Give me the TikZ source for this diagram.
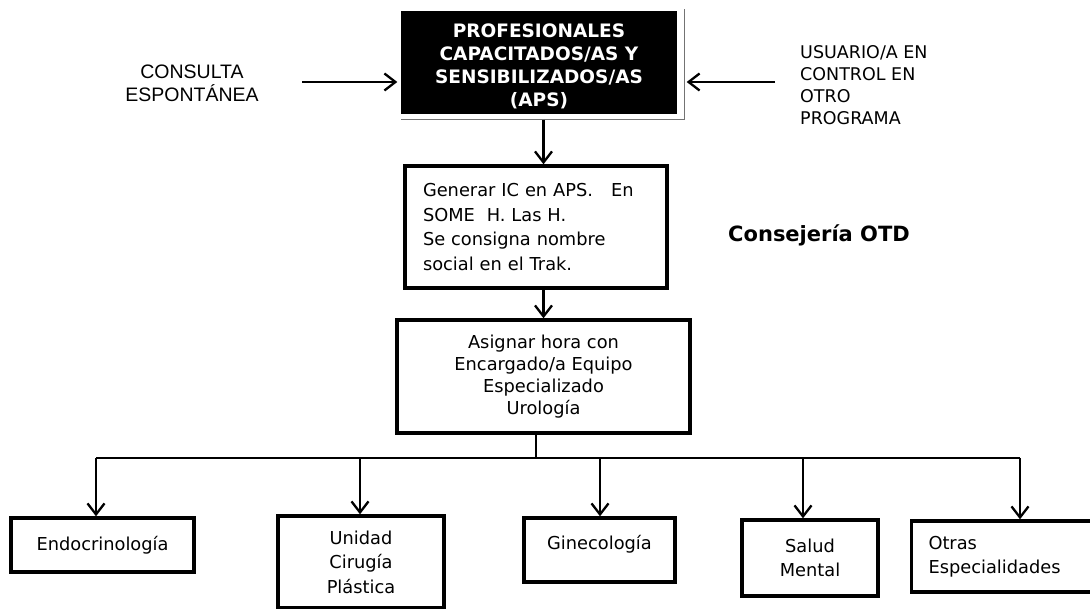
\documentclass[tikz,border=0pt]{standalone}
\usepackage{fontspec}
\setmainfont{DejaVu Sans}
\newfontfamily\arialfont{Liberation Sans}
\usetikzlibrary{arrows.meta,positioning}

\begin{document}
\begin{tikzpicture}[x=1pt, y=-1pt,
  box/.style={draw, line width=3.4pt, inner sep=0pt, align=center,
    font=\fontsize{17.8}{24.5}\selectfont},
  arr/.style={line width=2.3pt, -{Straight Barb[length=11pt,width=17pt,line width=2.3pt]}},
  link/.style={line width=2.3pt}]
  \useasboundingbox (0,0) rectangle (1090,609);

  % top box (APS) with its thin frame
  \node[box, fill=black, text=white, minimum width=272pt, minimum height=99pt,
    font=\bfseries\fontsize{18.5}{23}\selectfont] (aps) at (539,62.5)
    {\rule{0pt}{22pt}PROFESIONALES\\CAPACITADOS/AS Y\\SENSIBILIZADOS/AS\\(APS)};
  \draw[black!55, line width=1.2pt] ([yshift=-6pt]aps.south west) -| ([xshift=8pt,yshift=2pt]aps.north east);

  % entries from the sides
  \node[font=\arialfont\fontsize{19.5}{23}\selectfont, align=center] (consulta) at (192,83)
    {CONSULTA\\ESPONTÁNEA};
  \node[anchor=west, inner sep=0pt, align=left, font=\fontsize{17.5}{22}\selectfont] (usuario) at (800,85)
    {USUARIO/A EN\\CONTROL EN\\OTRO\\PROGRAMA};
  \coordinate (inL) at (302,82);
  \coordinate (inR) at (775,82);
  \draw[arr] (inL) -- ([xshift=-4pt]aps.west |- inL);
  \draw[arr] (inR) -- ([xshift=10pt]aps.east |- inR);

  % middle column
  \node[box, text width=226pt, align=left, inner xsep=18pt, minimum height=122pt] (ic) at (536,227)
    {Generar IC en APS.\hspace{18pt}En\\SOME\ \ H. Las H.\\Se consigna nombre\\social en el Trak.};
  \node[box, minimum width=293pt, minimum height=113pt, font=\fontsize{17.8}{22}\selectfont] (asig) at (543.5,376.5)
    {Asignar hora con\\Encargado/a Equipo\\Especializado\\Urología};
  \node[anchor=west, inner sep=0pt, font=\bfseries\fontsize{21}{25}\selectfont] (otd) at (728,235)
    {Consejería OTD};

  \draw[arr] ([yshift=-6pt]aps.south -| asig.north) -- (ic.north -| asig.north);
  \draw[arr] (ic.south -| asig.north) -- (asig.north);

  % specialities
  \node[box, minimum width=183pt, minimum height=54pt] (endo) at (102.5,545) {Endocrinología};
  \node[box, minimum width=166pt, minimum height=92pt] (unidad) at (361,562) {Unidad\\Cirugía\\Plástica};
  \node[box, minimum width=151pt, minimum height=64pt, text depth=16pt] (gine) at (599.5,550) {Ginecología};
  \node[box, minimum width=136pt, minimum height=76pt] (salud) at (810,558) {Salud\\Mental};
  \node[box, text width=151pt, align=left, inner xsep=17pt, minimum height=71pt] (otras) at (1004,556.5)
    {Otras\\Especialidades};

  % distribution line
  \coordinate (bus) at (536,458);
  \draw[link] (asig.south -| bus) -- (bus);
  \foreach \n/\x in {endo/96, unidad/360, gine/600, salud/803, otras/1020}
    \coordinate (b-\n) at (\x,458);
  \draw[link] (b-endo) -- (b-otras);
  \foreach \n in {endo, unidad, gine, salud, otras}
    \draw[arr] (b-\n) -- (b-\n |- \n.north);
\end{tikzpicture}
\end{document}
